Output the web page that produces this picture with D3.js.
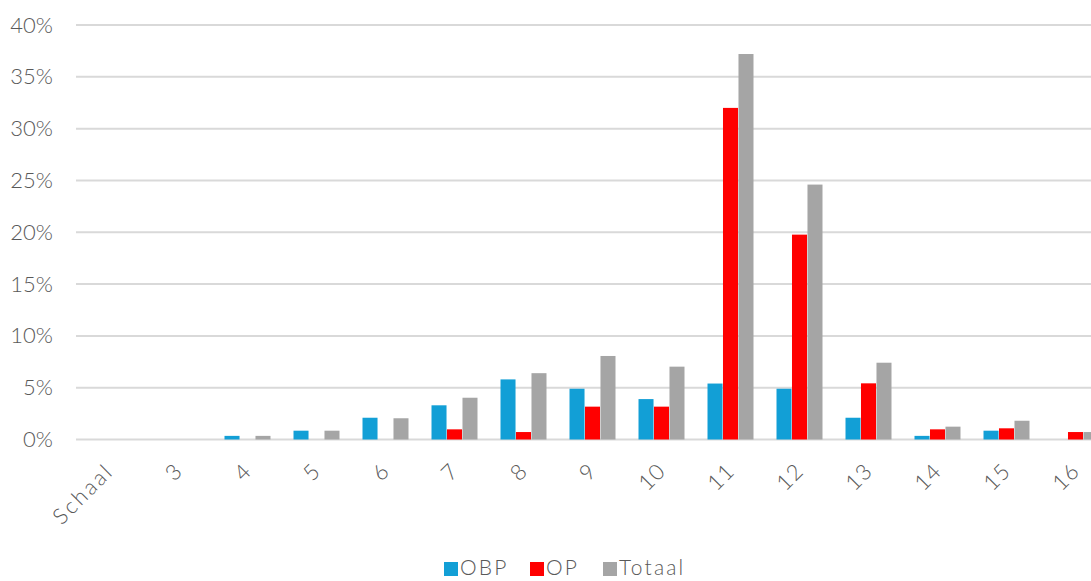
<!DOCTYPE html>
<html>
<head>
<meta charset="utf-8">
<script src="https://cdn.jsdelivr.net/npm/d3@7/dist/d3.min.js"></script>
<style>
  html, body { margin: 0; padding: 0; background: #fff; }
  svg { display: block; }
  text { font-family: "Lato", "DejaVu Sans", sans-serif; font-weight: 300; fill: #595959; }
</style>
</head>
<body>
<svg id="chart" width="1091" height="581"></svg>
<script>
// Category labels along the x axis
const categories = ["Schaal", "3", "4", "5", "6", "7", "8", "9", "10", "11", "12", "13", "14", "15", "16"];

// Share per category (fraction of total) for each series
const obp    = [0, 0, 0.0035, 0.0085, 0.021, 0.033, 0.058, 0.049, 0.039, 0.054, 0.049, 0.021, 0.0035, 0.0085, 0];
const op     = [0, 0, 0, 0, 0, 0.0098, 0.0072, 0.0317, 0.0317, 0.320, 0.1977, 0.0542, 0.0098, 0.0108, 0.0072];
const totaal = [0, 0, 0.0035, 0.0085, 0.0205, 0.0403, 0.064, 0.0806, 0.0703, 0.372, 0.246, 0.0741, 0.0124, 0.0181, 0.0072];

const seriesNames = ["OBP", "OP", "Totaal"];
const seriesColors = ["#129fd6", "#ff0000", "#a5a5a5"];
const yTicks = [0, 0.05, 0.10, 0.15, 0.20, 0.25, 0.30, 0.35, 0.40];

const seriesValues = [obp, op, totaal];
const rows = categories.map((c, i) => ({
  cat: c,
  vals: seriesNames.map((s, k) => ({ name: s, value: seriesValues[k][i] }))
}));

const FONT = "Lato, 'DejaVu Sans', sans-serif";
const svg = d3.select("#chart");

const x0 = d3.scaleBand()
  .domain(categories)
  .range([75, 1110])
  .paddingInner(0.32)
  .paddingOuter(0.16);

const x1 = d3.scaleBand()
  .domain(seriesNames)
  .range([0, x0.bandwidth()])
  .padding(0.03);

const y = d3.scaleLinear()
  .domain([0, 0.4])
  .range([439.5, 25]);

const color = d3.scaleOrdinal().domain(seriesNames).range(seriesColors);

// Horizontal gridlines
svg.append("g")
  .selectAll("line")
  .data(yTicks)
  .join("line")
  .attr("x1", 76)
  .attr("x2", 1091)
  .attr("y1", d => y(d))
  .attr("y2", d => y(d))
  .attr("stroke", "#d9d9d9")
  .attr("stroke-width", 2);

// Y axis labels
const yAxis = d3.axisLeft(y)
  .tickValues(yTicks)
  .tickFormat(d3.format(".0%"))
  .tickSize(0)
  .tickPadding(0);

const gy = svg.append("g")
  .attr("transform", "translate(53,0)")
  .call(yAxis);
gy.select(".domain").remove();
gy.selectAll("text")
  .style("font-size", "22px")
  .style("font-family", FONT)
  .style("font-weight", 300)
  .attr("fill", "#595959");

// Bars
const groups = svg.append("g")
  .selectAll("g")
  .data(rows)
  .join("g")
  .attr("transform", d => `translate(${x0(d.cat)},0)`);

groups.selectAll("rect")
  .data(d => d.vals.filter(v => v.value > 0))
  .join("rect")
  .attr("x", d => x1(d.name))
  .attr("width", x1.bandwidth())
  .attr("y", d => y(d.value))
  .attr("height", d => y(0) - y(d.value))
  .attr("fill", d => color(d.name));

// X axis labels, rotated
const xAxis = d3.axisBottom(x0).tickSize(0).tickPadding(0);
const gx = svg.append("g")
  .attr("transform", "translate(0,467)")
  .call(xAxis);
gx.select(".domain").remove();
gx.selectAll("text")
  .style("font-size", "22px")
  .style("font-family", FONT)
  .style("font-weight", 300)
  .style("letter-spacing", d => d.length > 2 ? "2.5px" : "1px")
  .attr("fill", "#595959")
  .attr("text-anchor", "end")
  .attr("y", 0)
  .attr("dy", "0.35em")
  .attr("transform", "rotate(-45)");

// Legend
const legendItems = [
  { name: "OBP", x: 444 },
  { name: "OP", x: 530 },
  { name: "Totaal", x: 603 }
];
const legend = svg.append("g");
const li = legend.selectAll("g")
  .data(legendItems)
  .join("g")
  .attr("transform", d => `translate(${d.x},562)`);
li.append("rect")
  .attr("width", 14)
  .attr("height", 14)
  .attr("fill", d => color(d.name));
li.append("text")
  .attr("x", 16)
  .attr("y", 13)
  .style("font-size", "21px")
  .style("letter-spacing", "2.2px")
  .text(d => d.name);
</script>
</body>
</html>
